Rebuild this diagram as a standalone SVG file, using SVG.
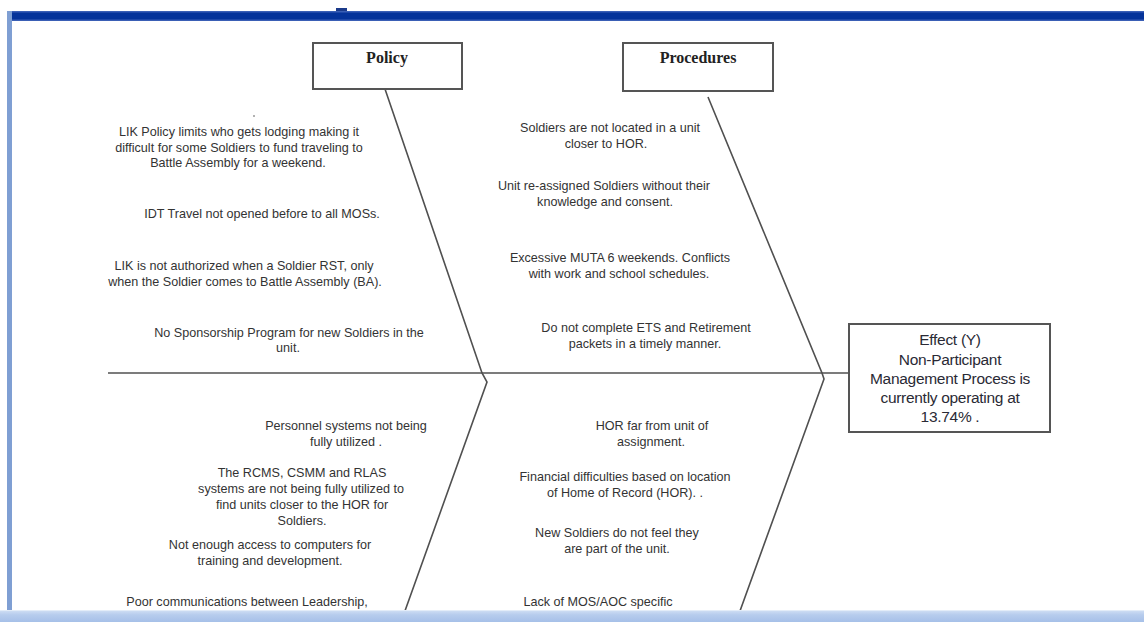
<svg xmlns="http://www.w3.org/2000/svg" width="1144" height="622" viewBox="0 0 1144 622">
<style>
.box{fill:#fff;stroke:#555;stroke-width:2}
.bone{fill:none;stroke:#505050;stroke-width:1.6}
.hdr{font-family:"Liberation Serif",serif;font-weight:bold;font-size:16px;fill:#222;text-anchor:middle}
.t{font-family:"Liberation Sans",Arial,sans-serif;font-size:12.6px;fill:#333;text-anchor:middle}
.eff{font-family:"Liberation Sans",Arial,sans-serif;font-size:15.5px;fill:#2a2a35;text-anchor:middle;letter-spacing:-0.3px}
</style>
<defs>
<linearGradient id="bb" x1="0" y1="0" x2="0" y2="1">
<stop offset="0" stop-color="#d2e0f4"/>
<stop offset="0.4" stop-color="#b7cced"/>
<stop offset="1" stop-color="#a6c0e8"/>
</linearGradient>
</defs>
<rect x="0" y="0" width="1144" height="622" fill="#fff"/>
<rect x="7" y="11" width="5" height="611" fill="#7f9fd3"/>
<rect x="12" y="11" width="1132" height="10" fill="#05339a"/>
<rect x="12" y="11" width="1132" height="1.5" fill="#3a5fb5"/>
<rect x="12" y="19.5" width="1132" height="1.5" fill="#3a5fb5"/>
<rect x="336" y="8" width="11" height="3" fill="#1b3a8a"/>
<circle cx="254" cy="116" r="1" fill="#999"/>

<g id="connectors">
<line class="bone" x1="108" y1="373" x2="849" y2="373"/>
<polyline class="bone" points="385,89 482,373 487,382 401,622"/>
<polyline class="bone" points="708,97 822,373 824,379 736,622"/>
</g>

<g id="policy">
<rect class="box" x="313" y="43" width="149" height="46"/>
<text class="hdr" x="387" y="63">Policy</text>
</g>
<g id="procedures">
<rect class="box" x="623" y="43" width="150" height="48"/>
<text class="hdr" x="698" y="63">Procedures</text>
</g>
<g id="effect">
<rect class="box" x="849" y="324" width="201" height="108"/>
<text class="eff" x="950" y="345">Effect (Y)</text>
<text class="eff" x="950" y="365">Non-Participant</text>
<text class="eff" x="950" y="384">Management Process is</text>
<text class="eff" x="950" y="403">currently operating at</text>
<text class="eff" x="950" y="422">13.74% .</text>
</g>

<g id="cause-lik-policy">
<text class="t" x="239" y="136">LIK Policy limits who gets lodging making it</text>
<text class="t" x="239" y="152">difficult for some Soldiers to fund traveling to</text>
<text class="t" x="238" y="167">Battle Assembly for a weekend.</text>
</g>
<g id="cause-idt">
<text class="t" x="262" y="218">IDT Travel not opened before to all MOSs.</text>
</g>
<g id="cause-lik-rst">
<text class="t" x="244" y="270">LIK is not authorized when a Soldier RST, only</text>
<text class="t" x="245" y="286">when the Soldier comes to Battle Assembly (BA).</text>
</g>
<g id="cause-sponsorship">
<text class="t" x="289" y="337">No Sponsorship Program for new Soldiers in the</text>
<text class="t" x="288" y="352">unit.</text>
</g>

<g id="cause-located">
<text class="t" x="610" y="132">Soldiers are not located in a unit</text>
<text class="t" x="606" y="148">closer to HOR.</text>
</g>
<g id="cause-reassigned">
<text class="t" x="604" y="190">Unit re-assigned Soldiers without their</text>
<text class="t" x="605" y="206">knowledge and consent.</text>
</g>
<g id="cause-muta">
<text class="t" x="620" y="262">Excessive MUTA 6 weekends. Conflicts</text>
<text class="t" x="619" y="278">with work and school schedules.</text>
</g>
<g id="cause-ets">
<text class="t" x="646" y="332">Do not complete ETS and Retirement</text>
<text class="t" x="645" y="348">packets in a timely manner.</text>
</g>

<g id="cause-personnel">
<text class="t" x="346" y="430">Personnel systems not being</text>
<text class="t" x="346" y="446">fully utilized .</text>
</g>
<g id="cause-rcms">
<text class="t" x="302" y="477">The RCMS, CSMM and RLAS</text>
<text class="t" x="301" y="493">systems are not being fully utilized to</text>
<text class="t" x="302" y="509">find units closer to the HOR for</text>
<text class="t" x="302" y="525">Soldiers.</text>
</g>
<g id="cause-computers">
<text class="t" x="270" y="549">Not enough access to computers for</text>
<text class="t" x="270" y="565">training and development.</text>
</g>
<g id="cause-communications">
<text class="t" x="247" y="606">Poor communications between Leadership,</text>
</g>

<g id="cause-hor-far">
<text class="t" x="652" y="430">HOR far from unit of</text>
<text class="t" x="651" y="446">assignment.</text>
</g>
<g id="cause-financial">
<text class="t" x="625" y="481">Financial difficulties based on location</text>
<text class="t" x="625" y="497">of Home of Record (HOR). .</text>
</g>
<g id="cause-new-soldiers">
<text class="t" x="617" y="537">New Soldiers do not feel they</text>
<text class="t" x="617" y="553">are part of the unit.</text>
</g>
<g id="cause-mos">
<text class="t" x="598" y="606">Lack of MOS/AOC specific</text>
</g>

<rect x="0" y="610" width="1144" height="12" fill="url(#bb)"/>
<rect x="0" y="610" width="1144" height="1" fill="#e3ecf8"/>
</svg>
